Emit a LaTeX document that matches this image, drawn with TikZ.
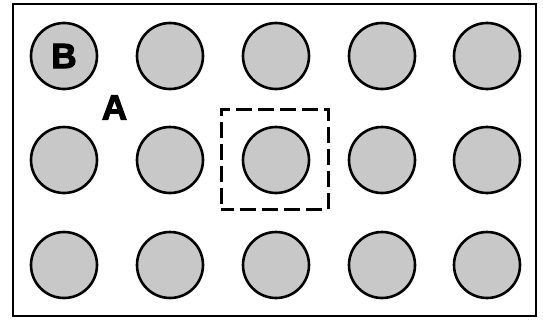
\documentclass[tikz,border=0pt]{standalone}
\usepackage{fontspec}
\setmainfont{Liberation Sans}
\newfontfamily\heavyfont[FakeBold=3]{Liberation Sans Bold}
\begin{document}
\begin{tikzpicture}[x=1pt,y=-1pt,
  cell/.style={circle,draw=black,line width=2.6pt,fill=cellgray,minimum size=66pt,inner sep=0pt},
  lbl/.style={font=\fontsize{35}{35}\selectfont\heavyfont,inner sep=0pt}]
\definecolor{cellgray}{HTML}{C8C8C8}
\useasboundingbox (0,0) rectangle (543,324);
\draw[line width=2.8pt] (13,4) rectangle (536,316);
\foreach \r/\y in {1/56,2/160,3/265}{
  \foreach \c/\x in {1/64,2/170,3/276,4/382,5/487}{
    \node[cell] (c\r\c) at (\x,\y) {};
  }
}
\node[lbl] (b) at (c11) {B};
\node[lbl] (a) at (114.5,107.5) {A};
\node[draw=black,line width=3pt,dash pattern=on 16pt off 6pt,dash phase=3pt,minimum width=107pt,minimum height=100pt,inner sep=0pt] (sel) at (274.5,159) {};
\end{tikzpicture}
\end{document}
